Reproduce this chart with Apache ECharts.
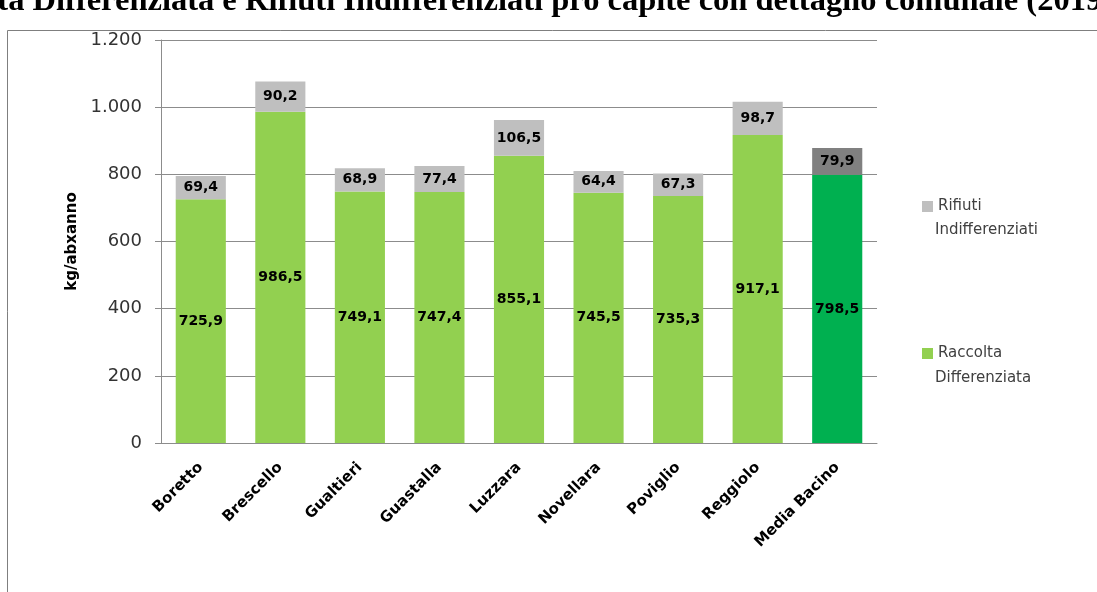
<!DOCTYPE html>
<html><head><meta charset="utf-8">
<script src="https://cdn.jsdelivr.net/npm/echarts@6/dist/echarts.min.js"></script>
<style>html,body{margin:0;padding:0;background:#fff}#c{width:1097px;height:592px}</style>
</head><body><div id="c"></div>
<script>
const categories = ['Boretto','Brescello','Gualtieri','Guastalla','Luzzara','Novellara','Poviglio','Reggiolo','Media Bacino'];
const differenziata = [725.9, 986.5, 749.1, 747.4, 855.1, 745.5, 735.3, 917.1, 798.5];
const indifferenziati = [69.4, 90.2, 68.9, 77.4, 106.5, 64.4, 67.3, 98.7, 79.9];
const yTicks = [0, 200, 400, 600, 800, 1000, 1200];
const titleText = 'Raccolta Differenziata e Rifiuti Indifferenziati pro capite con dettaglio comunale (2019)';

const chart = echarts.init(document.getElementById('c'));
const fmt = v => v.toFixed(1).replace('.', ',');
const lastIdx = categories.length - 1;
const labelStyle = {show: true, position: 'inside', color: '#000', fontFamily: 'DejaVu Sans', fontWeight: 'bold', fontSize: 14,
  formatter: p => fmt(p.value)};

chart.setOption({
  animation: false,
  graphic: [
    {type: 'rect', shape: {x: 7.5, y: 30.5, width: 1200, height: 700}, style: {fill: 'none', stroke: '#7f7f7f', lineWidth: 1}, silent: true},
    {type: 'text', x: 1113, y: 18, style: {text: titleText, font: 'bold 32.5px "Liberation Serif"', fill: '#000', align: 'right', verticalAlign: 'bottom'}},
    {type: 'text', x: 935, y: 230, style: {text: 'Indifferenziati', font: '15px "DejaVu Sans"', fill: '#404040', verticalAlign: 'middle'}},
    {type: 'text', x: 935, y: 378, style: {text: 'Differenziata', font: '15px "DejaVu Sans"', fill: '#404040', verticalAlign: 'middle'}}
  ],
  grid: {left: 161, right: 220, top: 40, bottom: 149, containLabel: false},
  legend: {
    orient: 'vertical', left: 917, top: 194, itemWidth: 11, itemHeight: 11, itemGap: 132,
    icon: 'rect',
    data: ['Rifiuti Indifferenziati', 'Raccolta Differenziata'],
    formatter: n => n.split(' ')[0],
    textStyle: {fontFamily: 'DejaVu Sans', fontSize: 15, color: '#404040'}
  },
  xAxis: {
    type: 'category', data: categories,
    axisLine: {lineStyle: {color: '#8c8c8c'}},
    axisTick: {length: 6, lineStyle: {color: '#8c8c8c'}},
    axisLabel: {rotate: 45, margin: 22, color: '#000', fontFamily: 'DejaVu Sans', fontWeight: 'bold', fontSize: 15, interval: 0}
  },
  yAxis: {
    type: 'value', min: 0, max: 1200, interval: 200,
    name: 'kg/abxanno', nameLocation: 'middle', nameGap: 80, nameRotate: 90,
    nameTextStyle: {fontFamily: 'DejaVu Sans', fontWeight: 'bold', fontSize: 15, color: '#000'},
    axisLine: {show: true, lineStyle: {color: '#8c8c8c'}},
    axisTick: {show: true, length: 6, inside: false, lineStyle: {color: '#8c8c8c'}},
    splitLine: {lineStyle: {color: '#8c8c8c', width: 1}},
    axisLabel: {margin: 19, color: '#333', fontFamily: 'DejaVu Sans', fontSize: 18, padding: [4, 0, 0, 0],
      formatter: v => yTicks.includes(v) ? v.toLocaleString('de-DE') : ''}
  },
  series: [
    {name: 'Raccolta Differenziata', type: 'bar', stack: 'tot', barCategoryGap: '37%',
     itemStyle: {color: '#92D050'},
     data: differenziata.map((v, i) => i === lastIdx ? {value: v, itemStyle: {color: '#00B050'}} : v),
     label: labelStyle},
    {name: 'Rifiuti Indifferenziati', type: 'bar', stack: 'tot', barCategoryGap: '37%',
     itemStyle: {color: '#BFBFBF'},
     data: indifferenziati.map((v, i) => i === lastIdx ? {value: v, itemStyle: {color: '#808080'}} : v),
     label: labelStyle}
  ]
});
</script></body></html>
